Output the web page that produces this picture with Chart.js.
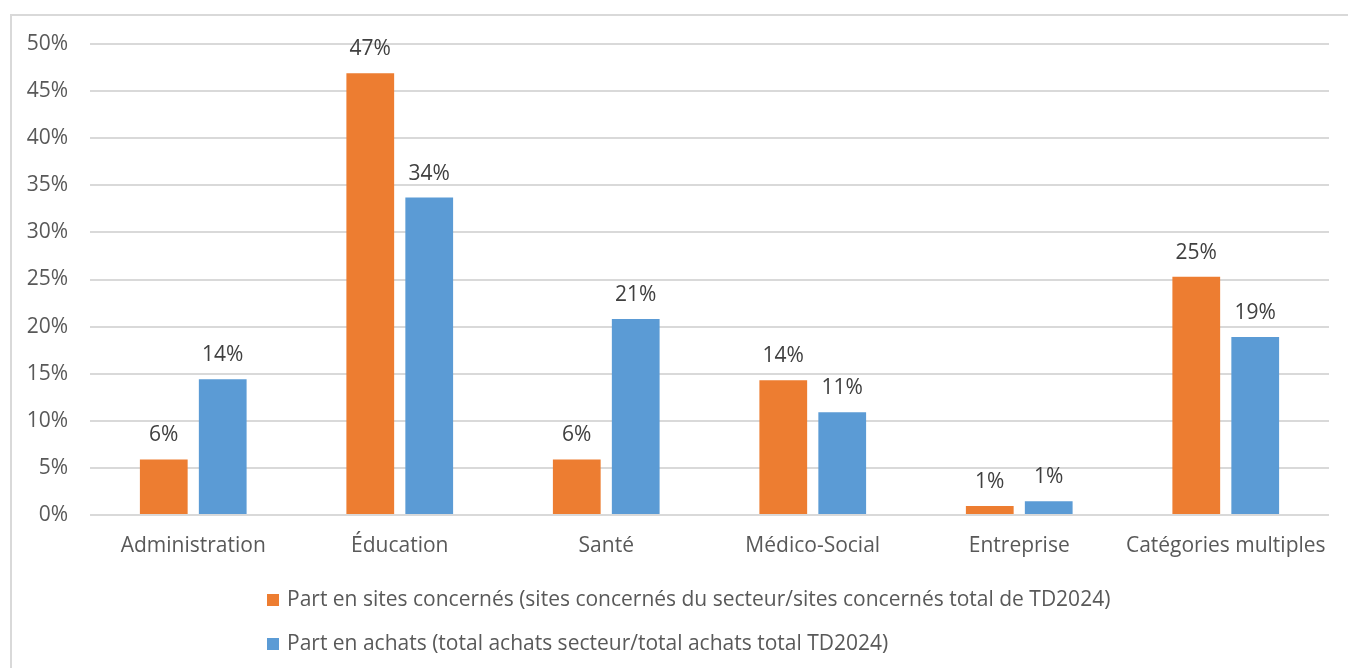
<!DOCTYPE html>
<html>
<head>
<meta charset="utf-8">
<script src="https://cdn.jsdelivr.net/npm/chart.js@4.4.1/dist/chart.umd.min.js"></script>
<style>
  html,body{margin:0;padding:0;background:#fff;}
  #wrap{position:relative;width:1348px;height:668px;overflow:hidden;font-family:'Open Sans',sans-serif;}
  #frame{position:absolute;left:10px;top:14px;width:1400px;height:700px;border-left:2px solid #d9d9d9;border-top:2px solid #d9d9d9;}
  canvas{position:absolute;left:0;top:0;}
  .leg{position:absolute;left:267px;font-size:21px;color:#595959;white-space:nowrap;line-height:26px;}
  .leg i{display:inline-block;width:12px;height:12px;margin-right:8px;vertical-align:0px;}
</style>
</head>
<body>
<div id="wrap">
  <div id="frame"></div>
  <canvas id="c" width="1348" height="668"></canvas>
  <div class="leg" id="leg1" style="top:585px"></div>
  <div class="leg" id="leg2" style="top:629px"></div>
</div>
<script>
const categories = ['Administration', 'Éducation', 'Santé', 'Médico-Social', 'Entreprise', 'Catégories multiples'];
const seriesNames = [
  'Part en sites concernés (sites concernés du secteur/sites concernés total de TD2024)',
  'Part en achats (total achats secteur/total achats total TD2024)'
];
const partSites = [5.9, 46.9, 5.9, 14.3, 0.95, 25.3];
const partAchats = [14.4, 33.7, 20.8, 10.9, 1.45, 18.9];
const yTicks = [0, 5, 10, 15, 20, 25, 30, 35, 40, 45, 50];
const colors = ['#ED7D31', '#5B9BD5'];

const tc = '#595959', gc = '#d9d9d9', ff = "'Open Sans', sans-serif";

document.getElementById('leg1').innerHTML = `<i style="background:${colors[0]}"></i>${seriesNames[0]}`;
document.getElementById('leg2').innerHTML = `<i style="background:${colors[1]}"></i>${seriesNames[1]}`;

const barLabels = {
  id: 'barLabels',
  afterDatasetsDraw(chart) {
    const ctx = chart.ctx;
    ctx.save();
    ctx.font = '21px ' + ff;
    ctx.fillStyle = '#404040';
    ctx.textAlign = 'center';
    ctx.textBaseline = 'middle';
    chart.data.datasets.forEach((ds, i) => {
      chart.getDatasetMeta(i).data.forEach((bar, j) => {
        ctx.fillText(Math.round(ds.data[j]) + '%', bar.x, bar.y - 24);
      });
    });
    ctx.restore();
  }
};

new Chart(document.getElementById('c'), {
  type: 'bar',
  data: {
    labels: categories,
    datasets: [
      { label: seriesNames[0], data: partSites, backgroundColor: colors[0], categoryPercentage: 0.571, barPercentage: 0.81 },
      { label: seriesNames[1], data: partAchats, backgroundColor: colors[1], categoryPercentage: 0.571, barPercentage: 0.81 }
    ]
  },
  options: {
    responsive: false, animation: false,
    layout: { padding: { top: 44, right: 19, bottom: 103, left: 0 } },
    plugins: { legend: { display: false }, tooltip: { enabled: false } },
    scales: {
      x: {
        grid: { display: false, drawTicks: false },
        border: { display: false },
        ticks: { color: tc, font: { size: 21, family: ff }, padding: 18, maxRotation: 0 },
        afterFit: s => { s.height = 50; }
      },
      y: {
        min: 0, max: 50,
        afterBuildTicks: s => { s.ticks = yTicks.map(v => ({ value: v })); },
        grid: { color: gc, lineWidth: 2, drawTicks: false },
        border: { display: false },
        ticks: { color: tc, font: { size: 21, family: ff }, padding: 22, callback: v => v + '%' },
        afterFit: s => { s.width = 90; }
      }
    }
  },
  plugins: [barLabels]
});
</script>
</body>
</html>
